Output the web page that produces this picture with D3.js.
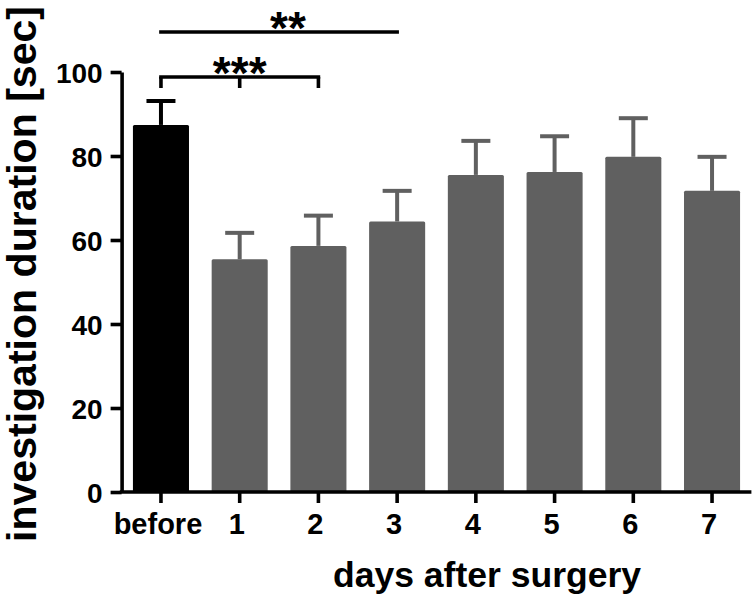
<!DOCTYPE html>
<html>
<head>
<meta charset="utf-8">
<script src="https://cdn.jsdelivr.net/npm/d3@7/dist/d3.min.js"></script>
<style>
  html, body { margin: 0; padding: 0; background: #fff; }
  svg { display: block; }
  text { font-family: "Liberation Sans", Arial, Helvetica, sans-serif; font-weight: bold; fill: #000; }
</style>
</head>
<body>
<div id="chart"></div>
<script>
// ---- data ----
const categories = ["before", "1", "2", "3", "4", "5", "6", "7"];
const means = [87.4, 55.4, 58.6, 64.4, 75.5, 76.2, 79.8, 71.7];
const upperErrors = [93.1, 61.7, 65.8, 71.7, 83.6, 84.7, 89.0, 79.8];
const yTicks = [0, 20, 40, 60, 80, 100];
const significance = [
  { from: "before", to: "3", label: "**", ticks: [] },
  { from: "before", to: "2", label: "***", ticks: ["before", "1", "2"] }
];
const xTitle = "days after surgery";
const yTitle = "investigation duration [sec]";

// ---- layout ----
const W = 756, H = 599;
const svg = d3.select("#chart").append("svg").attr("width", W).attr("height", H);

const x = d3.scaleBand().domain(categories).range([121.6, 751.4])
  .paddingInner(0.288).paddingOuter(0.144);
const y = d3.scaleLinear().domain([0, 100]).range([492, 72]);

const colorFor = c => c === "before" ? "#000000" : "#606060";
const axisW = 3.6;

// bars
svg.append("g").selectAll("rect").data(categories).join("rect")
  .attr("x", d => x(d))
  .attr("y", (d, i) => y(means[i]))
  .attr("width", x.bandwidth())
  .attr("height", (d, i) => y(0) - y(means[i]))
  .attr("rx", 1.5)
  .attr("fill", colorFor);

// error bars (upper only)
const capW = 29;
const eg = svg.append("g");
categories.forEach((c, i) => {
  const cx = x(c) + x.bandwidth() / 2;
  eg.append("line").attr("x1", cx).attr("x2", cx)
    .attr("y1", y(means[i])).attr("y2", y(upperErrors[i]))
    .attr("stroke", colorFor(c)).attr("stroke-width", 4);
  eg.append("line").attr("x1", cx - capW / 2).attr("x2", cx + capW / 2)
    .attr("y1", y(upperErrors[i])).attr("y2", y(upperErrors[i]))
    .attr("stroke", colorFor(c)).attr("stroke-width", 4);
});

// y axis
const yAxis = d3.axisLeft(y).tickValues(yTicks).tickSize(11).tickPadding(8).tickSizeOuter(0);
const gy = svg.append("g").attr("transform", "translate(121.6,0)").call(yAxis);
gy.select(".domain").attr("stroke", "#000").attr("stroke-width", axisW);
gy.selectAll(".tick line").attr("stroke", "#000").attr("stroke-width", axisW);
gy.selectAll(".tick text").style("font-size", "28px").attr("dy", "0.36em");

// x axis
const xAxis = d3.axisBottom(x).tickSize(11).tickPadding(10).tickSizeOuter(0);
const gx = svg.append("g").attr("transform", "translate(0,492)").call(xAxis);
gx.select(".domain").attr("stroke", "#000").attr("stroke-width", axisW)
  .attr("d", `M${x.range()[0] - 1.8},0H${x.range()[1]}`);
gx.selectAll(".tick line").attr("stroke", "#000").attr("stroke-width", axisW);
gx.selectAll(".tick text").style("font-size", "29px").attr("dy", "0.71em").attr("dx", -3);

// axis titles
svg.append("text").attr("x", 487).attr("y", 587).attr("text-anchor", "middle")
  .style("font-size", "35px").attr("textLength", 308).attr("lengthAdjust", "spacingAndGlyphs")
  .text(xTitle);
svg.append("text").attr("transform", "translate(36,274) rotate(-90)")
  .attr("text-anchor", "middle").style("font-size", "41px")
  .attr("textLength", 536).attr("lengthAdjust", "spacingAndGlyphs").text(yTitle);

// significance brackets
const cxOf = c => x(c) + x.bandwidth() / 2;
const sg = svg.append("g");
const levels = [32, 77];
const drop = 11;
significance.forEach((s, k) => {
  const yy = levels[k];
  const x1 = cxOf(s.from), x2 = cxOf(s.to);
  sg.append("line").attr("x1", x1 - 1.8).attr("x2", x2 + 1.8).attr("y1", yy).attr("y2", yy)
    .attr("stroke", "#000").attr("stroke-width", 3.6);
  s.ticks.forEach(t => {
    sg.append("line").attr("x1", cxOf(t)).attr("x2", cxOf(t))
      .attr("y1", yy).attr("y2", yy + drop)
      .attr("stroke", "#000").attr("stroke-width", 3.6);
  });
  const mid = s.ticks.length ? cxOf(s.ticks[1]) : 288;
  sg.append("text").attr("x", mid).attr("y", yy + 12).attr("text-anchor", "middle")
    .style("font-size", "46px").text(s.label);
});
</script>
</body>
</html>
